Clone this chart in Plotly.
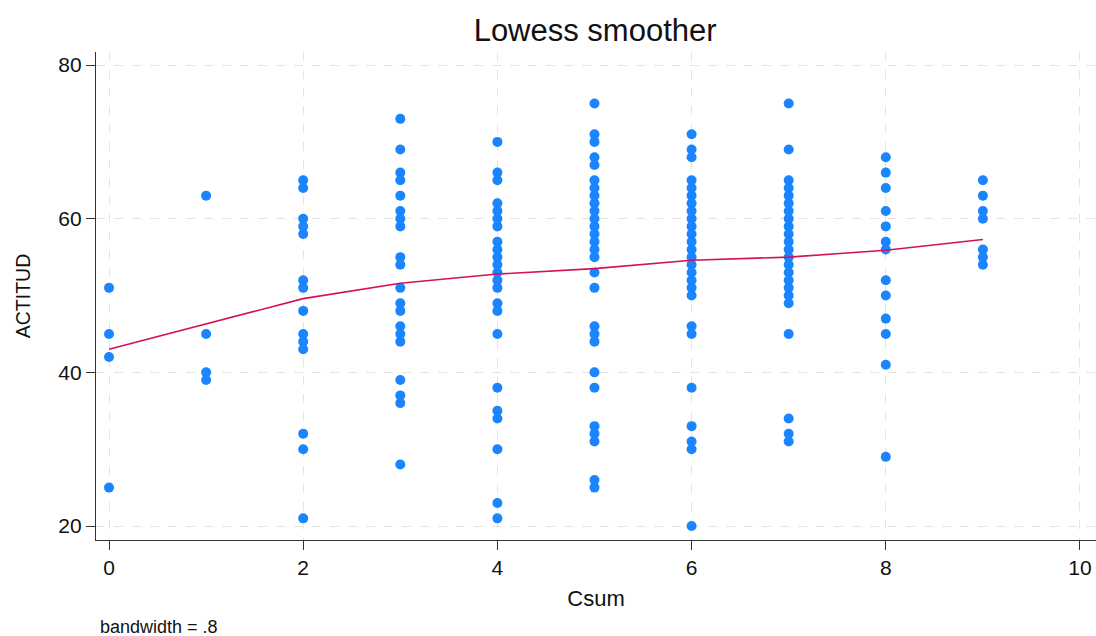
import plotly.graph_objects as go

# Data: ACTITUD values per Csum group
col0 = [51, 45, 42, 25]
col1 = [63, 45, 40, 39]
col2 = [65, 64, 60, 59, 58, 52, 51, 48, 45, 44, 43, 32, 30, 21]
col3 = [73, 69, 66, 65, 63, 61, 60, 59, 55, 54, 51, 49, 48, 46, 45, 44, 39, 37, 36, 28]
col4 = [70, 66, 65, 62, 61, 60, 59, 57, 56, 55, 54, 53, 52, 51, 49, 48, 45, 38, 35, 34, 30, 23, 21]
col5 = [75, 71, 70, 68, 67, 65, 64, 63, 62, 61, 60, 59, 58, 57, 56, 55, 53, 51, 46, 45, 44, 40, 38, 33, 32, 31, 26, 25]
col6 = [71, 69, 68, 65, 64, 63, 62, 61, 60, 59, 58, 57, 56, 55, 54, 53, 52, 51, 50, 46, 45, 38, 33, 31, 30, 20]
col7 = [75, 69, 65, 64, 63, 62, 61, 60, 59, 58, 57, 56, 55, 54, 53, 52, 51, 50, 49, 45, 34, 32, 31]
col8 = [68, 66, 64, 61, 59, 57, 56, 52, 50, 47, 45, 41, 29]
col9 = [65, 63, 61, 60, 56, 55, 54]
groups = [col0, col1, col2, col3, col4, col5, col6, col7, col8, col9]

lowess_x = [0, 1, 2, 3, 4, 5, 6, 7, 8, 9]
lowess_y = [43.0, 46.3, 49.6, 51.6, 52.8, 53.5, 54.6, 55.0, 55.9, 57.3]

x_ticks = [0, 2, 4, 6, 8, 10]
y_ticks = [20, 40, 60, 80]

xs, ys = [], []
for cs, vals in enumerate(groups):
    for v in vals:
        xs.append(cs)
        ys.append(v)

FONT = "Liberation Sans, Arial, Helvetica, sans-serif"

fig = go.Figure()
fig.add_trace(go.Scatter(
    x=xs, y=ys, mode="markers",
    marker=dict(color="#1a85ff", size=10, line=dict(width=0)),
    showlegend=False, hoverinfo="x+y"))
fig.add_trace(go.Scatter(
    x=lowess_x, y=lowess_y, mode="lines",
    line=dict(color="#d41159", width=1.6),
    showlegend=False))

fig.update_layout(
    width=1096, height=636,
    margin=dict(l=96, r=0, t=52, b=96),
    paper_bgcolor="white", plot_bgcolor="white",
    font=dict(family=FONT, color="#111111"),
    title=dict(text="Lowess smoother", x=0.543, xref="container", xanchor="center",
               y=0.952, yref="container", yanchor="middle",
               font=dict(size=31, family=FONT, color="#111111")),
    xaxis=dict(range=[-0.134, 10.165], tickmode="array", tickvals=x_ticks,
               ticks="outside", ticklen=9, tickwidth=1.2, tickcolor="#333333",
               showline=True, linecolor="#333333", linewidth=1.2,
               showgrid=True, gridcolor="#e4e4e4", griddash="dash", gridwidth=1,
               zeroline=False, tickfont=dict(size=21, family=FONT), automargin=False,
               title=dict(text="Csum", font=dict(size=22, family=FONT), standoff=12)),
    yaxis=dict(range=[18.18, 81.7], tickmode="array", tickvals=y_ticks,
               ticks="outside", ticklen=9, tickwidth=1.2, tickcolor="#333333",
               showline=True, linecolor="#333333", linewidth=1.2,
               showgrid=True, gridcolor="#e4e4e4", griddash="dash", gridwidth=1,
               zeroline=False, tickfont=dict(size=21, family=FONT), automargin=False,
               title=dict(text="ACTITUD", font=dict(size=19.5, family=FONT), standoff=22)),
    annotations=[dict(text="bandwidth = .8", xref="paper", yref="paper",
                      x=0.002, y=-0.178, xanchor="left", yanchor="middle",
                      showarrow=False, font=dict(size=18, family=FONT, color="#111111"))],
)

fig.write_html("out.html", config={"displayModeBar": False},
               post_script="document.body.style.margin='0px';document.body.style.overflow='hidden';")
